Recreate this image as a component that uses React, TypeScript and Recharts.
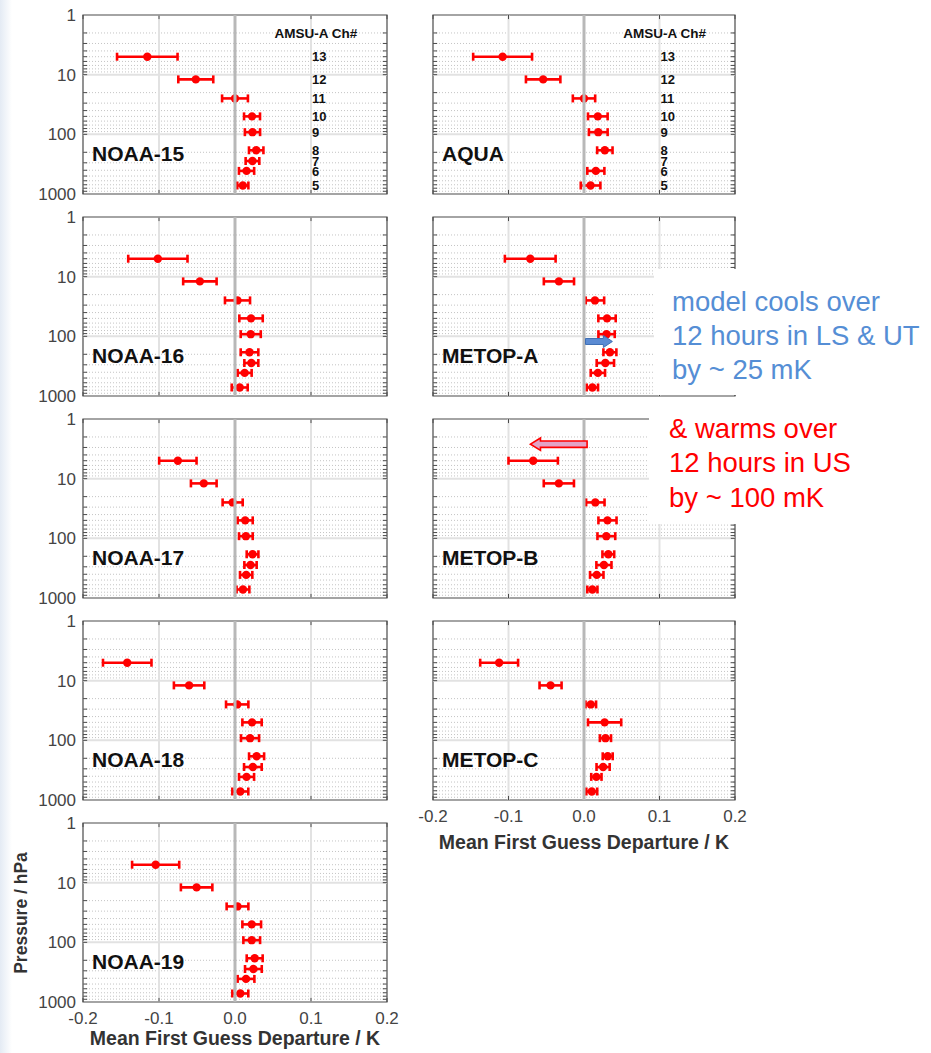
import React from 'react';
import { ScatterChart, Scatter, XAxis, YAxis, ErrorBar, ReferenceLine, ReferenceDot, ReferenceArea } from 'recharts';

// ---------- data ----------
const CHANNELS = [13, 12, 11, 10, 9, 8, 7, 6, 5];
const PRESSURE_HPA = [5, 12, 25, 50, 92, 185, 280, 410, 720];
const X_TICKS = [-0.2, -0.1, 0, 0.1, 0.2];
const Y_MAJOR = [1, 10, 100, 1000];
const Y_MINOR = [2, 3, 4, 5, 6, 7, 8, 9, 20, 30, 40, 50, 60, 70, 80, 90, 200, 300, 400, 500, 600, 700, 800, 900];
const Y_GRID_MAJOR = [10, 100];
const X_GRID_MAJOR = [-0.1, 0.1];

const NOAA15_MEAN = [-0.1154, -0.0516, 0.0, 0.0224, 0.023, 0.0279, 0.023, 0.0152, 0.0103];
const NOAA15_ERR = [0.0398, 0.023, 0.017, 0.0105, 0.01, 0.0095, 0.009, 0.01, 0.0073];
const AQUA_MEAN = [-0.1078, -0.0541, 0.0, 0.0183, 0.0189, 0.0276, null, 0.0157, 0.0087];
const AQUA_ERR = [0.039, 0.0228, 0.0148, 0.013, 0.0124, 0.0102, null, 0.0113, 0.013];
const NOAA16_MEAN = [-0.1015, -0.0462, 0.0033, 0.0211, 0.0207, 0.0191, 0.0215, 0.0127, 0.0062];
const NOAA16_ERR = [0.039, 0.022, 0.0165, 0.0154, 0.0132, 0.0116, 0.0092, 0.0092, 0.0105];
const METOPA_MEAN = [-0.0712, -0.0332, 0.0145, 0.0305, 0.0299, 0.0343, 0.0283, 0.0184, 0.0111];
const METOPA_ERR = [0.0336, 0.02, 0.0122, 0.0115, 0.0108, 0.0086, 0.0115, 0.0095, 0.0075];
const NOAA17_MEAN = [-0.0752, -0.0411, -0.0031, 0.0134, 0.0143, 0.0231, 0.0204, 0.0147, 0.0105];
const NOAA17_ERR = [0.0246, 0.0169, 0.0132, 0.0099, 0.009, 0.0077, 0.0081, 0.0081, 0.0084];
const METOPB_MEAN = [-0.0673, -0.0333, 0.015, 0.0311, 0.0296, 0.0322, 0.0264, 0.0169, 0.0111];
const METOPB_ERR = [0.0327, 0.02, 0.0122, 0.012, 0.0118, 0.0078, 0.01, 0.0089, 0.0067];
const NOAA18_MEAN = [-0.1418, -0.0604, 0.0029, 0.0224, 0.0198, 0.0284, 0.0235, 0.0152, 0.007];
const NOAA18_ERR = [0.0319, 0.02, 0.0147, 0.0127, 0.0119, 0.0099, 0.0116, 0.0099, 0.0105];
const METOPC_MEAN = [-0.1124, -0.0443, 0.009, 0.0273, 0.0284, 0.0314, 0.0253, 0.0164, 0.0103];
const METOPC_ERR = [0.0251, 0.0146, 0.007, 0.022, 0.0074, 0.0066, 0.0087, 0.0068, 0.0072];
const NOAA19_MEAN = [-0.1044, -0.0505, 0.0033, 0.022, 0.022, 0.0259, 0.0242, 0.0145, 0.007];
const NOAA19_ERR = [0.031, 0.0207, 0.0143, 0.0123, 0.011, 0.0105, 0.011, 0.011, 0.0105];

// annotation arrows (data coordinates)
const COOL_ARROW = { p: 122, from: 0.002, to: 0.0376 };
const WARM_ARROW = { p: 2.64, from: 0.0041, to: -0.0709 };

const CH_LABEL_X = 0.1;
const CH_HEADER = { x: 0.052, p: 2.0, text: 'AMSU-A Ch#' };

// ---------- styles ----------
const FONT = '"Liberation Sans", Arial, Helvetica, sans-serif';
const AXIS = '#4a4a4a';
const TICK_TXT = '#444';
const PLOT_H = 179;
const Y_AXIS_W = 50;
const TOP_PAD = 8;
const TICK_LEN_X = 0.0055; // inward tick length in x data units (~4px)
const TICK_FAC_Y = 1.17; // inward tick length as a log factor (~4px)

const Empty = () => <g />;

const XTickLabel = (p: any) => (
  <text x={p.x} y={p.y} dy="0.71em" textAnchor="middle" fontSize={17} fill={TICK_TXT} fontFamily={FONT}>
    {Number(p.payload.value).toFixed(1)}
  </text>
);

const YTickLabel = (p: any) => (
  <text x={p.x} y={p.y} dy="0.36em" textAnchor="end" fontSize={17} fill={TICK_TXT} fontFamily={FONT}>
    {p.payload.value}
  </text>
);

const RedDot = (p: any) => <circle cx={p.cx} cy={p.cy} r={4.2} fill="#ff0000" />;

const ChannelText = (p: any) => (
  <text x={p.cx + 1} y={p.cy} dy="0.36em" textAnchor="start" fontSize={13} fontWeight="bold" fill="#111" fontFamily={FONT}>
    {p.payload.ch}
  </text>
);

const HeaderText = (p: any) => (
  <text x={p.cx} y={p.cy} dy="0.36em" textAnchor="start" fontSize={13.5} fontWeight="bold" fill="#111" fontFamily={FONT}>
    {CH_HEADER.text}
  </text>
);

const BlueArrow = (p: any) => {
  const y = p.y1;
  const xs = Math.min(p.x1, p.x2);
  const xe = Math.max(p.x1, p.x2);
  const hl = 9, bh = 3, hh = 6;
  const pts = [
    [xs, y - bh], [xe - hl, y - bh], [xe - hl, y - hh], [xe, y], [xe - hl, y + hh], [xe - hl, y + bh], [xs, y + bh],
  ].map((q) => q.join(',')).join(' ');
  return <polygon points={pts} fill="#5b8bd3" stroke="#3f6fb5" strokeWidth={1} />;
};

const RedArrow = (p: any) => {
  const y = p.y1;
  const xs = Math.min(p.x1, p.x2);
  const xe = Math.max(p.x1, p.x2);
  const hl = 10, bh = 3.2, hh = 6.2;
  const pts = [
    [xs, y], [xs + hl, y - hh], [xs + hl, y - bh], [xe, y - bh], [xe, y + bh], [xs + hl, y + bh], [xs + hl, y + hh],
  ].map((q) => q.join(',')).join(' ');
  return <polygon points={pts} fill="#e3a3c6" stroke="#ff0000" strokeWidth={1.6} />;
};

type PanelProps = {
  name: string;
  mean: (number | null)[];
  err: (number | null)[];
  plotLeft: number;
  plotTop: number;
  plotW: number;
  xLabels?: boolean;
  yLabels?: boolean;
  channels?: boolean;
  coolArrow?: boolean;
  warmArrow?: boolean;
};

function Panel(props: PanelProps) {
  const { name, mean, err, plotLeft, plotTop, plotW, xLabels, yLabels, channels, coolArrow, warmArrow } = props;
  const data = CHANNELS.map((ch, i) => ({ ch, p: PRESSURE_HPA[i], x: mean[i], err: err[i] })).filter(
    (d) => d.x !== null
  );
  const chData = CHANNELS.map((ch, i) => ({ ch, p: PRESSURE_HPA[i], x: CH_LABEL_X }));
  const xAxisH = xLabels ? 30 : 0;
  const bottom = xLabels ? 4 : 14;
  const right = 22;
  const width = Y_AXIS_W + plotW + right;
  const height = TOP_PAD + PLOT_H + xAxisH + bottom;
  const yTickVals = [...Y_MINOR, ...Y_GRID_MAJOR];

  return (
    <>
      <div style={{ position: 'absolute', left: plotLeft - Y_AXIS_W, top: plotTop - TOP_PAD }}>
        <ScatterChart width={width} height={height} margin={{ top: TOP_PAD, right, bottom, left: 0 }}>
          <XAxis
            type="number"
            dataKey="x"
            domain={[-0.2, 0.2]}
            ticks={X_TICKS}
            interval={0}
            allowDataOverflow
            height={xAxisH}
            tickSize={-4}
            tickMargin={14}
            tick={xLabels ? XTickLabel : Empty}
            axisLine={false}
            tickLine={false}
          />
          <YAxis
            type="number"
            dataKey="p"
            scale="log"
            domain={[1, 1000]}
            reversed
            ticks={Y_MAJOR}
            interval={0}
            allowDataOverflow
            width={Y_AXIS_W}
            tickSize={-4}
            tickMargin={11}
            tick={yLabels ? YTickLabel : Empty}
            axisLine={false}
            tickLine={false}
          />
          {Y_MINOR.map((v) => (
            <ReferenceLine key={'m' + v} y={v} stroke="#c4c4c4" strokeDasharray="1 2" strokeWidth={1} />
          ))}
          {Y_GRID_MAJOR.map((v) => (
            <ReferenceLine key={'g' + v} y={v} stroke="#e2e2e2" strokeWidth={2} />
          ))}
          {X_GRID_MAJOR.map((v) => (
            <ReferenceLine key={'gx' + v} x={v} stroke="#e2e2e2" strokeWidth={2} />
          ))}
          {yTickVals.map((v) => (
            <ReferenceLine
              key={'tl' + v}
              segment={[{ x: -0.2, y: v }, { x: -0.2 + TICK_LEN_X, y: v }]}
              stroke={AXIS}
              strokeWidth={1}
            />
          ))}
          {yTickVals.map((v) => (
            <ReferenceLine
              key={'tr' + v}
              segment={[{ x: 0.2 - TICK_LEN_X, y: v }, { x: 0.2, y: v }]}
              stroke={AXIS}
              strokeWidth={1}
            />
          ))}
          {X_TICKS.map((v) => (
            <ReferenceLine
              key={'tt' + v}
              segment={[{ x: v, y: 1 }, { x: v, y: TICK_FAC_Y }]}
              stroke={AXIS}
              strokeWidth={1}
            />
          ))}
          {X_TICKS.map((v) => (
            <ReferenceLine
              key={'tb' + v}
              segment={[{ x: v, y: 1000 / TICK_FAC_Y }, { x: v, y: 1000 }]}
              stroke={AXIS}
              strokeWidth={1}
            />
          ))}
          <Scatter data={data} fill="#ff0000" shape={RedDot} isAnimationActive={false}>
            <ErrorBar dataKey="err" direction="x" width={4} stroke="#ff0000" strokeWidth={2.6} />
          </Scatter>
          <ReferenceLine x={0} stroke="#b8b8b8" strokeWidth={3} zIndex={1000} />
          <ReferenceArea x1={-0.2} x2={0.2} y1={1} y2={1000} fill="none" fillOpacity={0} stroke={AXIS} strokeWidth={1.2} />
          {channels && <Scatter data={chData} shape={ChannelText} isAnimationActive={false} />}
          {channels && <ReferenceDot x={CH_HEADER.x} y={CH_HEADER.p} r={0} shape={HeaderText} />}
          {coolArrow && (
            <ReferenceLine
              segment={[{ x: COOL_ARROW.from, y: COOL_ARROW.p }, { x: COOL_ARROW.to, y: COOL_ARROW.p }]}
              shape={BlueArrow}
              zIndex={1100}
            />
          )}
          {warmArrow && (
            <ReferenceLine
              segment={[{ x: WARM_ARROW.from, y: WARM_ARROW.p }, { x: WARM_ARROW.to, y: WARM_ARROW.p }]}
              shape={RedArrow}
              zIndex={1100}
            />
          )}
        </ScatterChart>
      </div>
      <div
        style={{
          position: 'absolute',
          left: plotLeft + 9,
          top: plotTop + 139 - 12,
          fontSize: 21,
          lineHeight: '24px',
          fontWeight: 'bold',
          color: '#111',
          fontFamily: FONT,
          whiteSpace: 'nowrap',
        }}
      >
        {name}
      </div>
    </>
  );
}

const LEFT_X = 83;
const LEFT_W = 304;
const RIGHT_X = 433;
const RIGHT_W = 302;
const ROW_TOPS = [15, 217, 419, 621, 823];

export default function App() {
  const xTitle = {
    position: 'absolute' as const,
    transform: 'translate(-50%, -50%)',
    fontSize: 19.5,
    fontWeight: 'bold' as const,
    color: '#333',
    fontFamily: FONT,
    whiteSpace: 'nowrap' as const,
  };
  return (
    <div
      style={{
        position: 'absolute',
        left: 0,
        top: 0,
        width: 931,
        height: 1053,
        background: '#ffffff',
        overflow: 'hidden',
        fontFamily: FONT,
      }}
    >
      <div
        style={{
          position: 'absolute',
          left: 0,
          top: 0,
          width: 12,
          height: 1053,
          background: 'linear-gradient(to right, #e4ebf4, #ffffff)',
        }}
      />
      <Panel name="NOAA-15" mean={NOAA15_MEAN} err={NOAA15_ERR} plotLeft={LEFT_X} plotTop={ROW_TOPS[0]} plotW={LEFT_W} yLabels channels />
      <Panel name="NOAA-16" mean={NOAA16_MEAN} err={NOAA16_ERR} plotLeft={LEFT_X} plotTop={ROW_TOPS[1]} plotW={LEFT_W} yLabels />
      <Panel name="NOAA-17" mean={NOAA17_MEAN} err={NOAA17_ERR} plotLeft={LEFT_X} plotTop={ROW_TOPS[2]} plotW={LEFT_W} yLabels />
      <Panel name="NOAA-18" mean={NOAA18_MEAN} err={NOAA18_ERR} plotLeft={LEFT_X} plotTop={ROW_TOPS[3]} plotW={LEFT_W} yLabels />
      <Panel name="NOAA-19" mean={NOAA19_MEAN} err={NOAA19_ERR} plotLeft={LEFT_X} plotTop={ROW_TOPS[4]} plotW={LEFT_W} yLabels xLabels />
      <Panel name="AQUA" mean={AQUA_MEAN} err={AQUA_ERR} plotLeft={RIGHT_X} plotTop={ROW_TOPS[0]} plotW={RIGHT_W} channels />
      <Panel name="METOP-A" mean={METOPA_MEAN} err={METOPA_ERR} plotLeft={RIGHT_X} plotTop={ROW_TOPS[1]} plotW={RIGHT_W} coolArrow />
      <Panel name="METOP-B" mean={METOPB_MEAN} err={METOPB_ERR} plotLeft={RIGHT_X} plotTop={ROW_TOPS[2]} plotW={RIGHT_W} warmArrow />
      <Panel name="METOP-C" mean={METOPC_MEAN} err={METOPC_ERR} plotLeft={RIGHT_X} plotTop={ROW_TOPS[3]} plotW={RIGHT_W} xLabels />

      <div style={{ ...xTitle, left: 235, top: 1038 }}>Mean First Guess Departure / K</div>
      <div style={{ ...xTitle, left: 584, top: 842 }}>Mean First Guess Departure / K</div>
      <div
        style={{
          position: 'absolute',
          left: 21,
          top: 913,
          transform: 'translate(-50%, -50%) rotate(-90deg)',
          fontSize: 17.5,
          fontWeight: 'bold',
          color: '#333',
          fontFamily: FONT,
          whiteSpace: 'nowrap',
        }}
      >
        Pressure / hPa
      </div>

      <div style={{ position: 'absolute', left: 654, top: 269, width: 277, height: 126, background: '#fff' }} />
      <div
        style={{
          position: 'absolute',
          left: 672,
          top: 285,
          fontSize: 27.5,
          lineHeight: '34px',
          color: '#558ed5',
          fontFamily: FONT,
          whiteSpace: 'nowrap',
        }}
      >
        <div>model cools over</div>
        <div>12 hours in LS &amp; UT</div>
        <div>by ~ 25 mK</div>
      </div>

      <div style={{ position: 'absolute', left: 649, top: 402, width: 282, height: 122, background: '#fff' }} />
      <div
        style={{
          position: 'absolute',
          left: 669,
          top: 411.5,
          fontSize: 27.5,
          lineHeight: '34.5px',
          color: '#ff0000',
          fontFamily: FONT,
          whiteSpace: 'nowrap',
        }}
      >
        <div>&amp; warms over</div>
        <div>12 hours in US</div>
        <div>by ~ 100 mK</div>
      </div>
    </div>
  );
}
